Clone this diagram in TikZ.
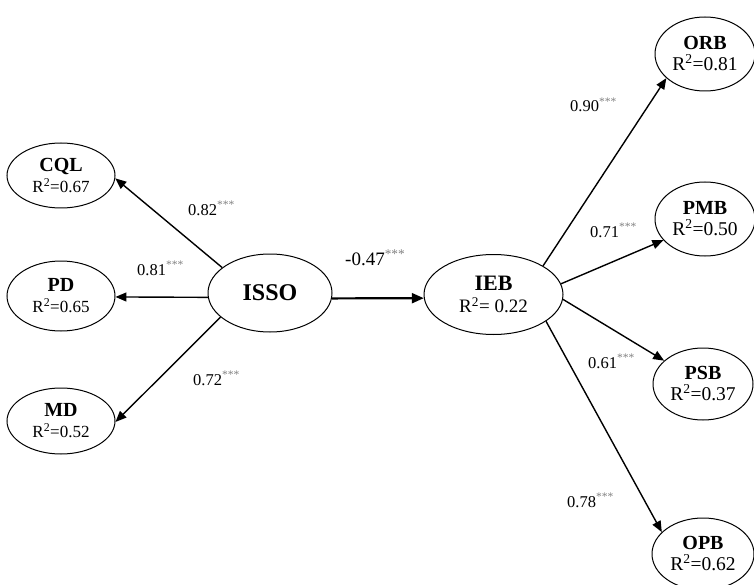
\documentclass[tikz,border=0pt]{standalone}
\usepackage{fontspec}
\setmainfont{Liberation Serif}
\usetikzlibrary{shapes.geometric,arrows.meta}

% construct name in bold, R-squared line, significance stars
\newcommand\latname[1]{{\fontsize{20}{21}\selectfont\bfseries #1}}
\newcommand\rsq[1]{R\textsuperscript{2}=#1}
\newcommand\sigstars{\textsuperscript{\textcolor{gray}{***}}}

\begin{document}
\begin{tikzpicture}[x=1pt,y=-1pt,
  lat/.style={draw, ellipse, line width=1pt, inner sep=0pt, align=center,
    font=\fontsize{17}{21}\selectfont},
  latR/.style={lat, font=\fontsize{19.5}{21}\selectfont},
  link/.style={line width=1.4pt, -{Triangle[length=11pt,width=9pt]}},
  coef/.style={anchor=base west, inner sep=0pt, font=\fontsize{16.5}{18}\selectfont}]
\useasboundingbox (0,0) rectangle (754,585);

% exogenous construct and its dimensions
\node[lat, minimum width=124, minimum height=78,
      font=\fontsize{24}{26}\selectfont\bfseries] (isso) at (270,293) {ISSO};
\node[lat, minimum width=108, minimum height=65] (cql) at (61,175.5) {\latname{CQL}\\\rsq{0.67}};
\node[lat, minimum width=108, minimum height=70] (pd)  at (61,296) {\latname{PD}\\\rsq{0.65}};
\node[lat, minimum width=108, minimum height=66] (md)  at (61,421) {\latname{MD}\\\rsq{0.52}};

% endogenous construct and its dimensions
\node[lat, minimum width=139, minimum height=80, font=\fontsize{19}{22}\selectfont]
      (ieb) at (493.5,294.5) {{\fontsize{22}{22}\selectfont\bfseries IEB}\\R\textsuperscript{2}= 0.22};
\node[latR, minimum width=100, minimum height=74] (orb) at (705,54)  {\latname{ORB}\\\rsq{0.81}};
\node[latR, minimum width=100, minimum height=74] (pmb) at (705,219) {\latname{PMB}\\\rsq{0.50}};
\node[latR, minimum width=100, minimum height=72] (psb) at (703,384) {\latname{PSB}\\\rsq{0.37}};
\node[latR, minimum width=102, minimum height=72] (opb) at (703,554) {\latname{OPB}\\\rsq{0.62}};

% paths
\draw[link] (isso.152.5) -- (cql.-3);
\draw[link] (isso.184) -- (pd.-1.5);
\draw[link] (isso.206.6) -- (md.-1);
\draw[link, line width=2.2pt, -{Triangle[length=12pt,width=10pt]}] (isso.-5.5) -- (ieb.183.7);
\draw[link] (ieb.30.8) -- (orb.212.5);
\draw[link] (ieb.9.5) -- (pmb.207.7);
\draw[link] (ieb.-4.6) -- (psb.149);
\draw[link] (ieb.-27.3) -- (opb.152);

% path coefficients
\node[coef] (k1) at (188,215) {0.82\sigstars};
\node[coef] (k2) at (137,275) {0.81\sigstars};
\node[coef] (k3) at (193,385) {0.72\sigstars};
\node[coef, font=\fontsize{19}{20}\selectfont] (k4) at (345,265) {-0.47\sigstars};
\node[coef] (k5) at (570,112) {0.90\sigstars};
\node[coef] (k6) at (590,237) {0.71\sigstars};
\node[coef] (k7) at (588,368) {0.61\sigstars};
\node[coef] (k8) at (567,507) {0.78\sigstars};
\end{tikzpicture}
\end{document}
